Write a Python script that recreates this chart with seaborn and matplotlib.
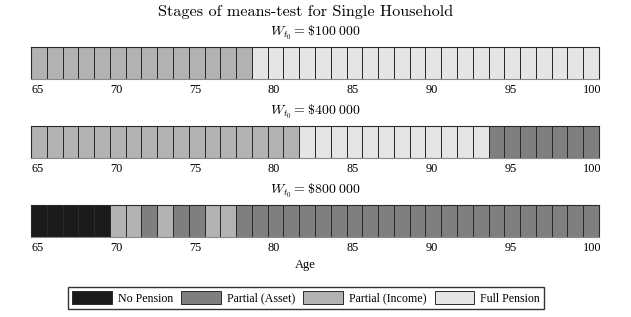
import numpy as np
import pandas as pd
import seaborn as sns
import matplotlib
matplotlib.use("Agg")
import matplotlib.pyplot as plt
from matplotlib.colors import ListedColormap
from matplotlib.patches import Patch

# ages on the x axis
ages = list(range(65, 101))

# stage codes: 0 = No Pension, 1 = Partial (Asset), 2 = Partial (Income), 3 = Full Pension
stage_names = ["No Pension", "Partial (Asset)", "Partial (Income)", "Full Pension"]
stage_colors = ["#1a1a1a", "#7f7f7f", "#b2b2b2", "#e5e5e5"]

wealth_labels = [r"$W_{t_0} = \$100\;000$", r"$W_{t_0} = \$400\;000$", r"$W_{t_0} = \$800\;000$"]

stage_100k = [2, 2, 2, 2, 2, 2, 2, 2, 2, 2, 2, 2, 2, 2,
              3, 3, 3, 3, 3, 3, 3, 3, 3, 3, 3, 3, 3, 3, 3, 3, 3, 3, 3, 3, 3, 3]
stage_400k = [2, 2, 2, 2, 2, 2, 2, 2, 2, 2, 2, 2, 2, 2, 2, 2, 2,
              3, 3, 3, 3, 3, 3, 3, 3, 3, 3, 3, 3,
              1, 1, 1, 1, 1, 1, 1]
stage_800k = [0, 0, 0, 0, 0,
              2, 2, 1, 2, 1, 1, 2, 2,
              1, 1, 1, 1, 1, 1, 1, 1, 1, 1, 1, 1, 1, 1, 1, 1, 1, 1, 1, 1, 1, 1, 1]

tick_ages = [65, 70, 75, 80, 85, 90, 95, 100]

plt.rcParams["mathtext.fontset"] = "cm"
serif = ["Liberation Serif", "DejaVu Serif"]

W, H = 631, 317
fig = plt.figure(figsize=(W / 100, H / 100), dpi=100)
cmap = ListedColormap(stage_colors)

left, right = 31, 599
strip_tops = [47.3, 126.3, 205.3]
strip_h = 31.4

for i, (stages, label) in enumerate(zip([stage_100k, stage_400k, stage_800k], wealth_labels)):
    top = strip_tops[i]
    ax = fig.add_axes([left / W, 1 - (top + strip_h) / H, (right - left) / W, strip_h / H])
    df = pd.DataFrame([stages], columns=ages)
    sns.heatmap(df, ax=ax, cmap=cmap, vmin=-0.5, vmax=3.5, cbar=False,
                linewidths=0.6, linecolor="#2a2a2a", square=False)
    # outer frame of the strip
    for side in ["top", "bottom", "left", "right"]:
        ax.spines[side].set_visible(True)
        ax.spines[side].set_linewidth(0.8)
        ax.spines[side].set_color("#2a2a2a")
    ax.spines["bottom"].set_color("#8a8a8a")
    ax.set_yticks([])
    ax.set_ylabel("")
    ax.set_xticks([ages.index(a) for a in tick_ages])
    ax.set_xticklabels([str(a) for a in tick_ages], rotation=0, ha="left",
                       fontfamily=serif, fontsize=8.8)
    ax.tick_params(axis="x", length=0, pad=4)
    ax.set_xlabel("")
    fig.text((left + right) / 2 / W, 1 - (top - 14) / H, label,
             ha="center", va="center", fontsize=10)
    if i == 2:
        ax.set_xlabel("Age", fontfamily=serif, fontsize=9)
        ax.xaxis.set_label_coords((305 - left) / (right - left), -0.72)

fig.text(306 / W, 1 - 12 / H, "Stages of means-test for Single Household",
         ha="center", va="center", fontfamily="cmr10", fontsize=11.7)

handles = [Patch(facecolor=c, edgecolor="#2a2a2a", linewidth=0.7) for c in stage_colors]
fig.legend(handles, stage_names, loc="center", bbox_to_anchor=(306 / W, 1 - 298 / H),
           ncol=4, frameon=True, fancybox=False, edgecolor="black",
           prop={"family": serif, "size": 8.6}, handlelength=3.3, handleheight=1.2,
           handletextpad=0.5, columnspacing=0.7, borderpad=0.35)

fig.savefig("out.png", dpi=100)
